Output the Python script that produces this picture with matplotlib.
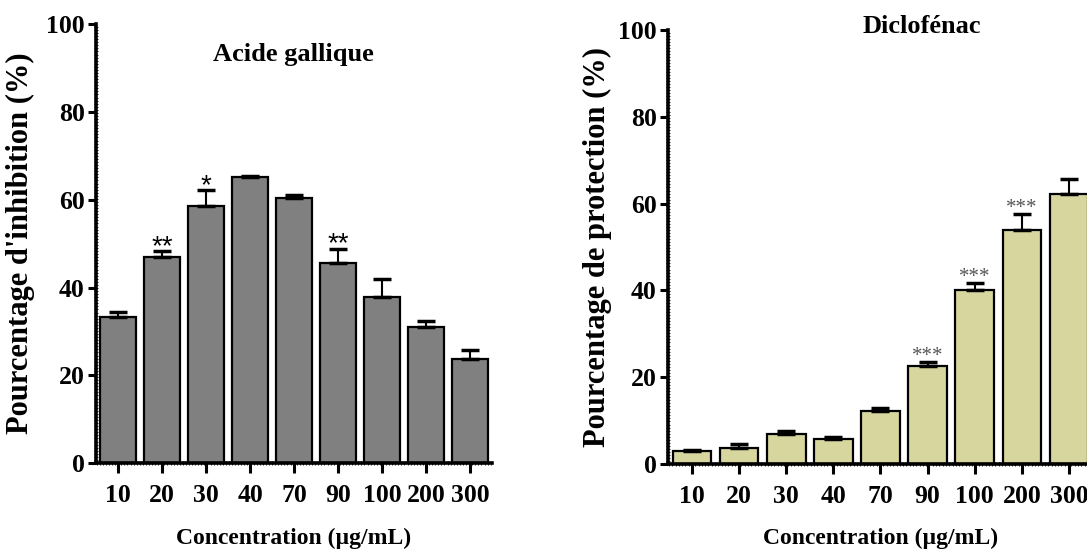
import numpy as np
import matplotlib.pyplot as plt
from matplotlib.ticker import MultipleLocator

conc = ["10", "20", "30", "40", "70", "90", "100", "200", "300"]

gallic = [33.2, 46.9, 58.6, 65.3, 60.4, 45.5, 37.9, 31.0, 23.6]
gallic_err = [1.2, 1.4, 3.6, 0.2, 0.7, 3.3, 4.0, 1.4, 2.2]
gallic_sig = ["", "**", "*", "", "", "**", "", "", ""]

diclo = [2.9, 3.7, 6.9, 5.7, 12.1, 22.6, 40.2, 53.8, 62.1]
diclo_err = [0.4, 0.8, 0.8, 0.6, 0.7, 0.8, 1.4, 3.8, 3.5]
diclo_sig = ["", "", "", "", "", "***", "***", "***", ""]

plt.rcParams["font.family"] = "Liberation Serif"
plt.rcParams["font.weight"] = "bold"

fig = plt.figure(figsize=(10.87, 5.52), dpi=100)
ax1 = fig.add_axes([0.0881, 0.1612, 0.3645, 0.7948])
ax2 = fig.add_axes([0.6145, 0.1594, 0.3906, 0.7864])


def draw(ax, vals, errs, color, sig, sig_font, sig_color, sig_size, sig_off):
    x = np.arange(len(vals))
    ax.bar(x, vals, width=0.82, color=color, edgecolor="black", linewidth=1.6, zorder=2)
    lower = np.zeros(len(errs))
    ax.errorbar(x, vals, yerr=[lower, errs], fmt="none", ecolor="black",
                elinewidth=1.5, capsize=6.5, capthick=2.5, zorder=3)
    for xi, v, e, s in zip(x, vals, errs, sig):
        if s:
            ax.text(xi, v + e + sig_off, s, ha="center", va="baseline",
                    family=sig_font, fontweight="normal", color=sig_color,
                    fontsize=sig_size)
    ax.set_xlim(-0.51, 8.5)
    ax.set_ylim(0, 100)
    ax.set_yticks([0, 20, 40, 60, 80, 100])
    ax.set_xticks(x)
    ax.set_xticklabels(conc)
    # dense little ticks give the ruler-like axis line of the original
    ax.yaxis.set_minor_locator(MultipleLocator(0.7))
    ax.xaxis.set_minor_locator(MultipleLocator(0.07))
    for s in ["top", "right"]:
        ax.spines[s].set_visible(False)
    for s in ["left", "bottom"]:
        ax.spines[s].set_linewidth(2.6)
    ax.tick_params(axis="y", length=6, width=2.2, pad=2, labelsize=18.5)
    ax.tick_params(axis="x", length=7, width=2.2, pad=8, labelsize=18.5)
    ax.tick_params(which="minor", direction="inout", length=3.2, width=0.6)
    ax.set_xlabel("Concentration (µg/mL)", fontsize=17, fontweight="bold")
    ax.xaxis.set_label_coords(0.5, -0.148)
    ax.xaxis.label.set_va("top")


draw(ax1, gallic, gallic_err, "#808080", gallic_sig, "Liberation Sans", "black", 20, -0.6)
draw(ax2, diclo, diclo_err, "#d7d69e", diclo_sig, "Liberation Serif", "#555555", 15, 0.3)

ax1.set_ylabel("Pourcentage d'inhibition (%)", fontsize=22, fontweight="bold")
ax1.yaxis.set_label_coords(-0.1535, 0.5)
ax2.set_ylabel("Pourcentage de protection (%)", fontsize=22, fontweight="bold")
ax2.yaxis.set_label_coords(-0.132, 0.5)

ax1.text(0.498, 0.931, "Acide gallique", transform=ax1.transAxes, ha="center",
         va="center", fontsize=19, fontweight="bold")
ax2.text(0.598, 1.009, "Diclofénac", transform=ax2.transAxes, ha="center",
         va="center", fontsize=19, fontweight="bold")

fig.savefig("out.png", dpi=100)
